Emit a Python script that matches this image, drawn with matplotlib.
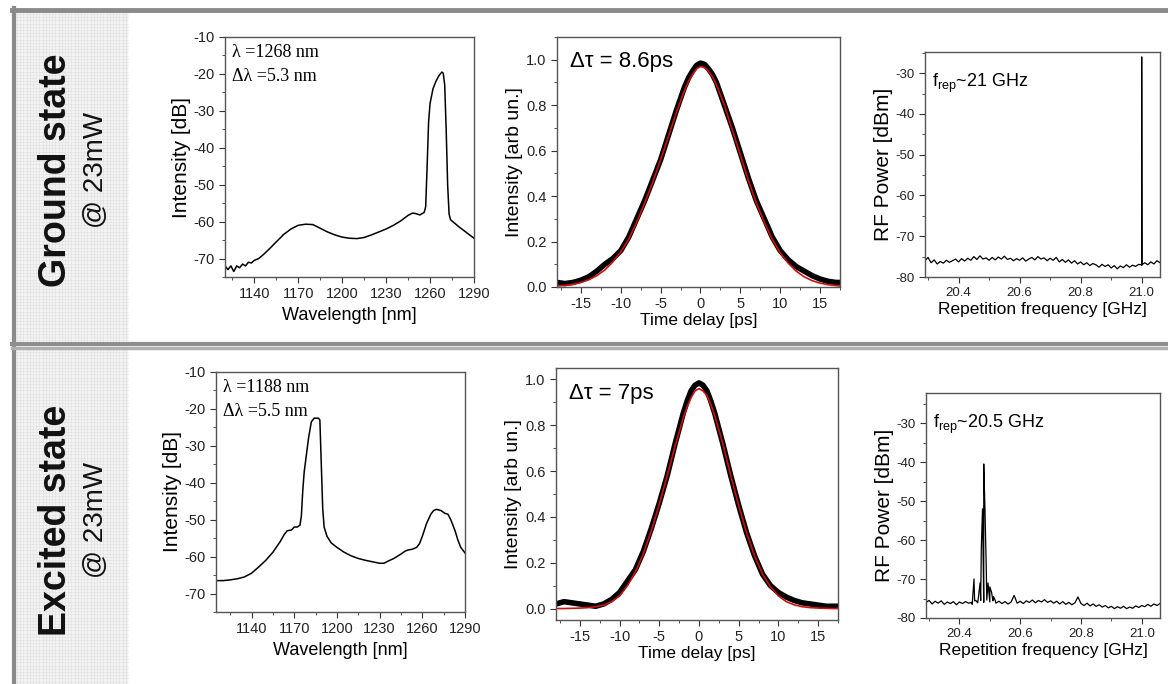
import numpy as np
import matplotlib.pyplot as plt
from matplotlib.ticker import MultipleLocator, FixedLocator
from matplotlib.lines import Line2D
from matplotlib.patches import Rectangle

plt.rcParams['font.family'] = ['Liberation Sans', 'DejaVu Sans']
plt.rcParams['axes.unicode_minus'] = False
plt.rcParams['mathtext.fontset'] = 'custom'
plt.rcParams['mathtext.rm'] = 'Liberation Sans'

# ---- optical spectra (wavelength nm, intensity dB) ----
gs_wl = [1120, 1122, 1124, 1126, 1128, 1130, 1132, 1134, 1136, 1138, 1140, 1143, 1146,
         1150, 1155, 1160, 1165, 1170, 1175, 1180, 1185, 1190, 1195, 1200, 1205, 1210,
         1215, 1220, 1225, 1230, 1235, 1240, 1245, 1248, 1250, 1253, 1256, 1257, 1258,
         1259, 1260, 1262, 1264, 1266, 1268, 1269, 1270, 1271, 1272, 1273, 1274, 1277,
         1280, 1285, 1290]
gs_db = [-72, -73, -72, -73.5, -72, -72.5, -71.5, -72, -71, -71.2, -70.5, -70, -69,
         -67.5, -65.5, -63.5, -62, -61, -60.7, -60.8, -61.8, -62.8, -63.6, -64.2, -64.5,
         -64.6, -64.3, -63.6, -62.8, -62, -61, -59.8, -58.3, -57.7, -57.8, -58.2, -57.5,
         -56, -45, -33, -28, -24, -22, -20.5, -19.5, -19.8, -23, -35, -50, -58, -59.5,
         -60.5, -61.5, -63, -64.5]

es_wl = [1115, 1120, 1125, 1130, 1135, 1140, 1145, 1150, 1155, 1160, 1163, 1165, 1168,
         1170, 1172, 1174, 1175, 1176, 1177, 1178, 1180, 1182, 1184, 1187, 1188, 1189,
         1190, 1191, 1193, 1196, 1200, 1205, 1210, 1215, 1220, 1225, 1230, 1233, 1236,
         1240, 1245, 1248, 1250, 1253, 1256, 1258, 1260, 1263, 1266, 1268, 1270, 1273,
         1276, 1278, 1280, 1283, 1285, 1287, 1290]
es_db = [-66.5, -66.5, -66.3, -66, -65.5, -64.5, -62.8, -61, -58.8, -56, -54, -53,
         -52.8, -52, -52, -51.5, -49, -42, -37, -34, -28, -23.5, -22.5, -22.5, -23, -35,
         -47, -52, -54.5, -56.3, -57.5, -58.8, -59.8, -60.5, -61, -61.4, -61.8, -61.8,
         -61.2, -60.5, -59.3, -58.5, -58.2, -58, -57.5, -56.5, -54.5, -51, -48.5, -47.5,
         -47.2, -47.5, -48.3, -48.5, -50, -53, -55.5, -57.5, -59]

# ---- autocorrelation traces (delay ps, intensity) ----
ac_t = [-18, -17, -16, -15, -14, -13, -12, -11, -10, -9, -8, -7, -6, -5, -4, -3, -2,
        -1.5, -1, -0.5, 0, 0.5, 1, 1.5, 2, 3, 4, 5, 6, 7, 8, 9, 10, 11, 12, 13, 14, 15,
        16, 17, 17.5]
gs_ac = [0.02, 0.015, 0.02, 0.03, 0.045, 0.07, 0.1, 0.125, 0.16, 0.22, 0.3, 0.38, 0.47,
         0.56, 0.67, 0.78, 0.88, 0.92, 0.95, 0.975, 0.985, 0.98, 0.96, 0.935, 0.9, 0.8,
         0.7, 0.59, 0.48, 0.38, 0.3, 0.22, 0.16, 0.12, 0.09, 0.07, 0.05, 0.035, 0.025,
         0.02, 0.02]
gs_fit = [0.004, 0.007, 0.012, 0.02, 0.032, 0.05, 0.075, 0.11, 0.155, 0.21, 0.285, 0.37,
          0.46, 0.56, 0.665, 0.77, 0.865, 0.905, 0.935, 0.96, 0.97, 0.965, 0.95, 0.925,
          0.89, 0.8, 0.69, 0.58, 0.47, 0.37, 0.285, 0.21, 0.15, 0.105, 0.07, 0.045,
          0.028, 0.017, 0.01, 0.006, 0.004]
es_ac = [0.02, 0.03, 0.025, 0.02, 0.015, 0.01, 0.02, 0.04, 0.07, 0.12, 0.17, 0.25, 0.35,
         0.46, 0.58, 0.72, 0.85, 0.905, 0.95, 0.975, 0.985, 0.975, 0.95, 0.905, 0.85,
         0.72, 0.58, 0.45, 0.33, 0.23, 0.15, 0.1, 0.07, 0.05, 0.035, 0.025, 0.02, 0.015,
         0.01, 0.01, 0.01]
es_fit = [0.0, 0.0, 0.001, 0.002, 0.004, 0.008, 0.015, 0.03, 0.055, 0.1, 0.16, 0.24, 0.34,
          0.455, 0.58, 0.71, 0.83, 0.88, 0.92, 0.95, 0.96, 0.95, 0.93, 0.89, 0.84, 0.72,
          0.58, 0.45, 0.33, 0.23, 0.15, 0.095, 0.055, 0.03, 0.016, 0.008, 0.004, 0.002,
          0.001, 0.0, 0.0]

# ---- RF spectra (GHz, dBm) ----
rf_f = np.round(np.linspace(20.29, 21.06, 78), 3)
gs_rf = [-76.0, -75.2, -76.5, -75.8, -76.8, -76.2, -76.6, -75.9, -76.4, -76.0, -75.6,
         -76.3, -75.5, -76.1, -75.4, -75.9, -75.0, -75.7, -74.8, -75.6, -75.3, -75.9,
         -75.2, -75.8, -75.1, -75.6, -74.9, -75.7, -75.4, -76.0, -75.5, -75.9, -75.3,
         -76.1, -75.6, -75.2, -75.8, -75.0, -75.6, -75.3, -76.0, -75.4, -75.9, -75.2,
         -76.3, -75.7, -76.4, -75.8, -76.6, -76.0, -76.8, -76.3, -77.0, -76.5, -77.2,
         -76.7, -77.0, -77.6, -76.9, -77.4, -77.0, -77.8, -77.2, -78.0, -77.3, -77.7,
         -77.0, -77.6, -77.1, -77.4, -76.9, -77.2, -76.5, -77.0, -76.3, -76.8, -76.0, -76.5]
gs_peak_f = [20.999, 21.0, 21.001]
gs_peak_db = [-77.0, -26.0, -77.0]

es_rf = [-76.0, -75.5, -76.4, -75.7, -76.2, -75.6, -76.5, -75.9, -76.3, -75.8, -76.6,
         -75.9, -76.3, -75.8, -76.2, -76.0, -75.6, -76.1, -75.5, -76.0, -75.4, -75.9,
         -75.6, -76.2, -75.7, -76.3, -75.8, -76.4, -75.9, -74.2, -76.2, -75.7, -76.3,
         -75.6, -76.0, -75.4, -76.1, -75.5, -75.9, -75.3, -76.0, -75.6, -76.2, -75.7,
         -76.4, -75.8, -76.5, -76.0, -76.6, -76.1, -74.6, -76.3, -76.8, -76.2, -76.9,
         -76.4, -77.0, -76.6, -77.2, -76.8, -77.4, -77.0, -77.6, -77.1, -77.5, -77.0,
         -77.6, -77.2, -77.5, -76.9, -77.3, -76.8, -77.1, -76.5, -77.0, -76.4, -76.8, -76.3]
es_peak_f = [20.442, 20.448, 20.454, 20.462, 20.468, 20.472, 20.476, 20.48, 20.484,
             20.488, 20.494, 20.5, 20.506, 20.512, 20.518]
es_peak_db = [-76.5, -70.0, -75.5, -75.0, -71.0, -62.0, -52.0, -40.5, -52.0, -66.0,
              -71.0, -72.0, -73.5, -74.5, -75.5]

W, H = 1168, 684
fig = plt.figure(figsize=(W / 100, H / 100), dpi=100)


def rect(x0, y0, x1, y1):
    return [x0 / W, 1 - y1 / H, (x1 - x0) / W, (y1 - y0) / H]


# frame and the grey label panels on the left
bg = fig.add_axes([0, 0, 1, 1])
bg.set_xlim(0, W)
bg.set_ylim(H, 0)
bg.axis('off')
for y0, y1 in [(12, 341), (350, 684)]:
    bg.add_patch(Rectangle((15, y0), 113, y1 - y0, color='#f3f3f3', lw=0))
    for gx in np.arange(17, 128, 3.2):
        bg.add_line(Line2D([gx, gx], [y0, y1], color='#e2e2e2', lw=0.5))
    for gy in np.arange(y0 + 2, y1, 3.2):
        bg.add_line(Line2D([15, 128], [gy, gy], color='#e2e2e2', lw=0.5))
bg.add_line(Line2D([12, W], [9.5, 9.5], color='#8a8a8a', lw=3.5))
bg.add_line(Line2D([13.5, 13.5], [8, H], color='#8a8a8a', lw=3))
bg.add_line(Line2D([12, W], [343.5, 343.5], color='#8e8e8e', lw=3))
bg.add_line(Line2D([12, W], [347.5, 347.5], color='#b0b0b0', lw=2.5))

for cy, title in [(170, 'Ground state'), (520, 'Excited state')]:
    bg.text(56, cy, title, rotation=90, ha='center', va='center',
            fontsize=27, fontweight='bold', color='#111111')
    bg.text(96, cy, '@ 23mW', rotation=90, ha='center', va='center',
            fontsize=20, color='#111111')


def style(ax, size=10.5):
    for s in ax.spines.values():
        s.set_color('#555555')
        s.set_linewidth(1.0)
    ax.tick_params(which='both', direction='out', labelsize=size,
                   colors='#333333', labelcolor='#222222')
    ax.tick_params(which='major', length=4)
    ax.tick_params(which='minor', length=2.5)


def spectrum(ax, wl, db, xlim, lines):
    ax.plot(wl, db, color='black', lw=1.1)
    ax.set_xlim(*xlim)
    ax.set_ylim(-75, -10)
    ax.xaxis.set_major_locator(MultipleLocator(30))
    ax.xaxis.set_minor_locator(MultipleLocator(15))
    ax.yaxis.set_major_locator(MultipleLocator(10))
    ax.yaxis.set_minor_locator(MultipleLocator(5))
    ax.set_xlabel('Wavelength [nm]', fontsize=13)
    ax.set_ylabel('Intensity [dB]', fontsize=15, labelpad=2)
    for i, s in enumerate(lines):
        ax.text(0.03, 0.935 - 0.1 * i, s, transform=ax.transAxes, ha='left',
                va='center', fontsize=13, family='Liberation Serif')
    style(ax)


def autocorr(ax, data, fit, ylim, label):
    ax.plot(ac_t, data, color='black', lw=4.0, solid_capstyle='round')
    ax.plot(ac_t, fit, color='#d01010', lw=1.2)
    ax.set_xlim(-18, 17.5)
    ax.set_ylim(*ylim)
    ax.xaxis.set_major_locator(MultipleLocator(5))
    ax.xaxis.set_minor_locator(MultipleLocator(2.5))
    ax.yaxis.set_major_locator(FixedLocator([0, 0.2, 0.4, 0.6, 0.8, 1.0]))
    ax.yaxis.set_minor_locator(MultipleLocator(0.1))
    ax.yaxis.set_major_formatter(plt.FormatStrFormatter('%.1f'))
    ax.set_xlabel('Time delay [ps]', fontsize=12.5, labelpad=1)
    ax.set_ylabel('Intensity [arb un.]', fontsize=14, labelpad=2)
    ax.text(0.045, 0.9, label, transform=ax.transAxes, ha='left', va='center',
            fontsize=16)
    style(ax)


def rf(ax, base, pf, pdb, ylim, label):
    f = np.concatenate([rf_f, pf])
    d = np.concatenate([base, pdb])
    order = np.argsort(f, kind='stable')
    ax.plot(f[order], d[order], color='black', lw=0.9)
    ax.set_xlim(20.29, 21.06)
    ax.set_ylim(*ylim)
    ax.xaxis.set_major_locator(FixedLocator([20.4, 20.6, 20.8, 21.0]))
    ax.xaxis.set_minor_locator(MultipleLocator(0.1))
    ax.xaxis.set_major_formatter(plt.FormatStrFormatter('%.1f'))
    ax.yaxis.set_major_locator(MultipleLocator(10))
    ax.yaxis.set_minor_locator(MultipleLocator(5))
    ax.set_xlabel('Repetition frequency [GHz]', fontsize=12.5, labelpad=2)
    ax.set_ylabel('RF Power [dBm]', fontsize=15, labelpad=2)
    ax.text(0.03, 0.86, label, transform=ax.transAxes, ha='left', va='center',
            fontsize=13)
    style(ax, 9.5)


ax1 = fig.add_axes(rect(225, 37, 474, 277))
spectrum(ax1, gs_wl, gs_db, (1120, 1290), ['λ =1268 nm', 'Δλ =5.3 nm'])
ax2 = fig.add_axes(rect(557, 37, 840, 287))
autocorr(ax2, gs_ac, gs_fit, (0, 1.1), 'Δτ = 8.6ps')
ax3 = fig.add_axes(rect(925, 52, 1160, 277))
rf(ax3, gs_rf, gs_peak_f, gs_peak_db, (-80, -24.8), r'f$_{\rm rep}$~21 GHz')

ax4 = fig.add_axes(rect(216, 372, 465, 612))
spectrum(ax4, es_wl, es_db, (1115, 1290), ['λ =1188 nm', 'Δλ =5.5 nm'])
ax5 = fig.add_axes(rect(556, 368, 838, 620))
autocorr(ax5, es_ac, es_fit, (-0.05, 1.05), 'Δτ = 7ps')
ax6 = fig.add_axes(rect(926, 393, 1160, 618))
rf(ax6, es_rf, es_peak_f, es_peak_db, (-80, -22.3), r'f$_{\rm rep}$~20.5 GHz')

fig.savefig('out.png', dpi=100)
